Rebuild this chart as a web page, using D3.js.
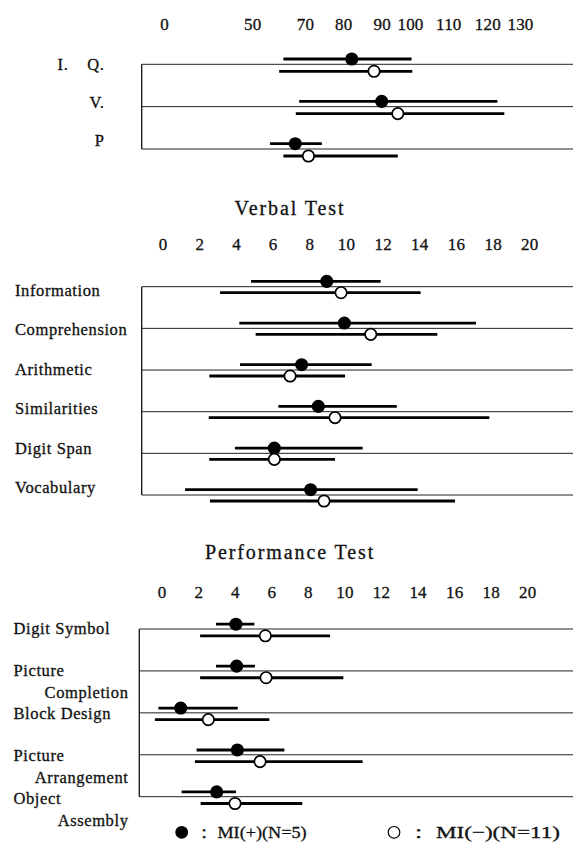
<!DOCTYPE html>
<html>
<head>
<meta charset="utf-8">
<script src="https://cdn.jsdelivr.net/npm/d3@7"></script>
<style>
  html, body { margin: 0; padding: 0; background: #fff; }
  svg { display: block; }
  text { font-family: "Liberation Serif", "Times New Roman", serif; fill: #111; stroke: #111; stroke-width: 0.3px; }
</style>
</head>
<body>
<svg id="chart" width="576" height="845"></svg>
<script>
// ---------------- DATA ----------------
// Panel 1: IQ
const iqCategories = ["I.    Q.", "V.", "P"];
const iqTicks = [0, 50, 70, 80, 90, 100, 110, 120, 130];
const iqPlusMean  = [82.2, 90.0, 66.3];
const iqPlusLow   = [61.8, 67.8, 56.7];
const iqPlusHigh  = [100.4, 123.1, 74.4];
const iqMinusMean = [88.0, 95.7, 70.9];
const iqMinusLow  = [60.2, 66.5, 61.8];
const iqMinusHigh = [100.6, 125.2, 95.7];

// Panel 2: Verbal Test
const verbalCategories = ["Information", "Comprehension", "Arithmetic", "Similarities", "Digit Span", "Vocabulary"];
const verbalTicks = [0, 2, 4, 6, 8, 10, 12, 14, 16, 18, 20];
const verbalPlusMean  = [8.95, 9.91, 7.58, 8.49, 6.09, 8.07];
const verbalPlusLow   = [4.82, 4.18, 4.22, 6.31, 3.94, 1.22];
const verbalPlusHigh  = [11.89, 17.09, 11.40, 12.77, 10.91, 13.91];
const verbalMinusMean = [9.73, 11.35, 6.95, 9.40, 6.09, 8.80];
const verbalMinusLow  = [3.13, 5.07, 2.54, 2.51, 2.54, 2.58];
const verbalMinusHigh = [14.07, 14.98, 9.95, 17.82, 9.40, 15.95];

// Panel 3: Performance Test
const perfCategories = [["Digit Symbol"], ["Picture", "Completion"], ["Block Design"], ["Picture", "Arrangement"], ["Object", "Assembly"]];
const perfTicks = [0, 2, 4, 6, 8, 10, 12, 14, 16, 18, 20];
const perfPlusMean  = [4.06, 4.10, 1.04, 4.14, 3.01];
const perfPlusLow   = [2.97, 2.97, -0.18, 1.91, 1.09];
const perfPlusHigh  = [5.07, 5.10, 4.16, 6.71, 4.06];
const perfMinusMean = [5.67, 5.71, 2.55, 5.38, 4.01];
const perfMinusLow  = [2.10, 2.10, -0.37, 1.82, 2.13];
const perfMinusHigh = [9.21, 9.94, 5.89, 10.99, 7.69];

const titles = ["Verbal Test", "Performance Test"];
const legendLabels = ["\uFF1A MI(+)(N=5)", "\uFF1A MI(\u2212)(N=11)"];

// ---------------- DRAWING ----------------
const svg = d3.select("#chart");
const lineRight = 573;
const dotR = 5.7;

function panel(opt) {
  const g = svg.append("g");
  const n = opt.plusMean.length;
  const y = d3.scaleLinear().domain([0, n - 1]).range(opt.yRange);
  const x = opt.x;

  // tick labels via d3 axis
  const axis = d3.axisTop(x).tickValues(opt.ticks).tickSize(0).tickPadding(0).tickFormat(d3.format("d"));
  const ax = g.append("g").attr("transform", `translate(0,${opt.tickBaseline})`).call(axis);
  ax.select(".domain").remove();
  ax.selectAll("text")
    .attr("dy", null)
    .style("font-family", '"Liberation Serif", "Times New Roman", serif')
    .style("font-size", "17px")
    .style("letter-spacing", "0.2px")
    .attr("fill", "#111");

  // left vertical line
  g.append("line")
    .attr("x1", opt.left).attr("x2", opt.left)
    .attr("y1", y(0)).attr("y2", y(n - 1))
    .attr("stroke", "#111").attr("stroke-width", 1.3);

  // row baselines
  g.selectAll("line.row").data(d3.range(n)).join("line")
    .attr("class", "row")
    .attr("x1", opt.left).attr("x2", lineRight)
    .attr("y1", i => y(i)).attr("y2", i => y(i))
    .attr("stroke", "#222").attr("stroke-width", 1);

  const series = [
    { mean: opt.plusMean, low: opt.plusLow, high: opt.plusHigh, off: opt.plusOff, fill: "#000" },
    { mean: opt.minusMean, low: opt.minusLow, high: opt.minusHigh, off: opt.minusOff, fill: "#fff" }
  ];
  series.forEach(s => {
    g.selectAll(null).data(d3.range(n)).join("line")
      .attr("x1", i => x(s.low[i])).attr("x2", i => x(s.high[i]))
      .attr("y1", i => y(i) + s.off).attr("y2", i => y(i) + s.off)
      .attr("stroke", "#000").attr("stroke-width", 2.8);
    g.selectAll(null).data(d3.range(n)).join("circle")
      .attr("cx", i => x(s.mean[i])).attr("cy", i => y(i) + s.off)
      .attr("r", dotR)
      .attr("fill", s.fill).attr("stroke", "#000").attr("stroke-width", 1.7);
  });

  // category labels
  const ly = d3.scaleLinear().domain([0, n - 1]).range(opt.labelRange);
  opt.labels.forEach((lab, i) => {
    const lines = Array.isArray(lab) ? lab : [lab];
    lines.forEach((t, j) => {
      g.append("text")
        .attr("x", j === 0 ? opt.labelX : opt.labelX2)
        .attr("y", ly(i) + j * 22)
        .attr("text-anchor", j === 0 ? opt.labelAnchor : "end")
        .style("font-size", "16.5px")
        .style("letter-spacing", "0.6px")
        .style("white-space", "pre")
        .text(t);
    });
  });
  return g;
}

// Panel 1
panel({
  x: d3.scaleLinear().domain(iqTicks).range([164, 252.3, 305, 343.3, 381.7, 410, 448.3, 487.3, 520]),
  ticks: iqTicks, tickBaseline: 29.5,
  yRange: [64.3, 149], left: 141.7,
  plusMean: iqPlusMean, plusLow: iqPlusLow, plusHigh: iqPlusHigh,
  minusMean: iqMinusMean, minusLow: iqMinusLow, minusHigh: iqMinusHigh,
  plusOff: -5.3, minusOff: 7,
  labels: iqCategories, labelRange: [70, 145.5], labelX: 104.5, labelAnchor: "end"
});

// Panel 2
panel({
  x: d3.scaleLinear().domain([0, 20]).range([162.7, 529.3]),
  ticks: verbalTicks, tickBaseline: 249.5,
  yRange: [286.7, 495], left: 141.7,
  plusMean: verbalPlusMean, plusLow: verbalPlusLow, plusHigh: verbalPlusHigh,
  minusMean: verbalMinusMean, minusLow: verbalMinusLow, minusHigh: verbalMinusHigh,
  plusOff: -5.3, minusOff: 6,
  labels: verbalCategories, labelRange: [295.5, 493], labelX: 15, labelAnchor: "start"
});

// Panel 3
panel({
  x: d3.scaleLinear().domain([0, 20]).range([161.7, 527.3]),
  ticks: perfTicks, tickBaseline: 598,
  yRange: [629, 796.7], left: 139.3,
  plusMean: perfPlusMean, plusLow: perfPlusLow, plusHigh: perfPlusHigh,
  minusMean: perfMinusMean, minusLow: perfMinusLow, minusHigh: perfMinusHigh,
  plusOff: -4.8, minusOff: 6.8,
  labels: perfCategories, labelRange: [634, 803.5], labelX: 13.5, labelX2: 128.5, labelAnchor: "start"
});

// Titles
[[titles[0], 214.5], [titles[1], 559]].forEach(([t, yy]) => {
  svg.append("text")
    .attr("x", 290).attr("y", yy)
    .attr("text-anchor", "middle")
    .style("font-size", "20px")
    .style("letter-spacing", "1.9px")
    .text(t);
});

// Legend
const legend = svg.append("g");
const legendX = [181.7, 394];
const legendFill = ["#000", "#fff"];
const legendTextLen = [112, 153];
legendLabels.forEach((lab, i) => {
  legend.append("circle")
    .attr("cx", legendX[i]).attr("cy", 832.3).attr("r", 5.8)
    .attr("fill", legendFill[i]).attr("stroke", "#000").attr("stroke-width", 1.2);
  legend.append("text")
    .attr("x", legendX[i] + 13).attr("y", 837.5)
    .attr("textLength", legendTextLen[i])
    .attr("lengthAdjust", "spacingAndGlyphs")
    .style("font-size", "17px")
    .text(lab);
});
</script>
</body>
</html>
